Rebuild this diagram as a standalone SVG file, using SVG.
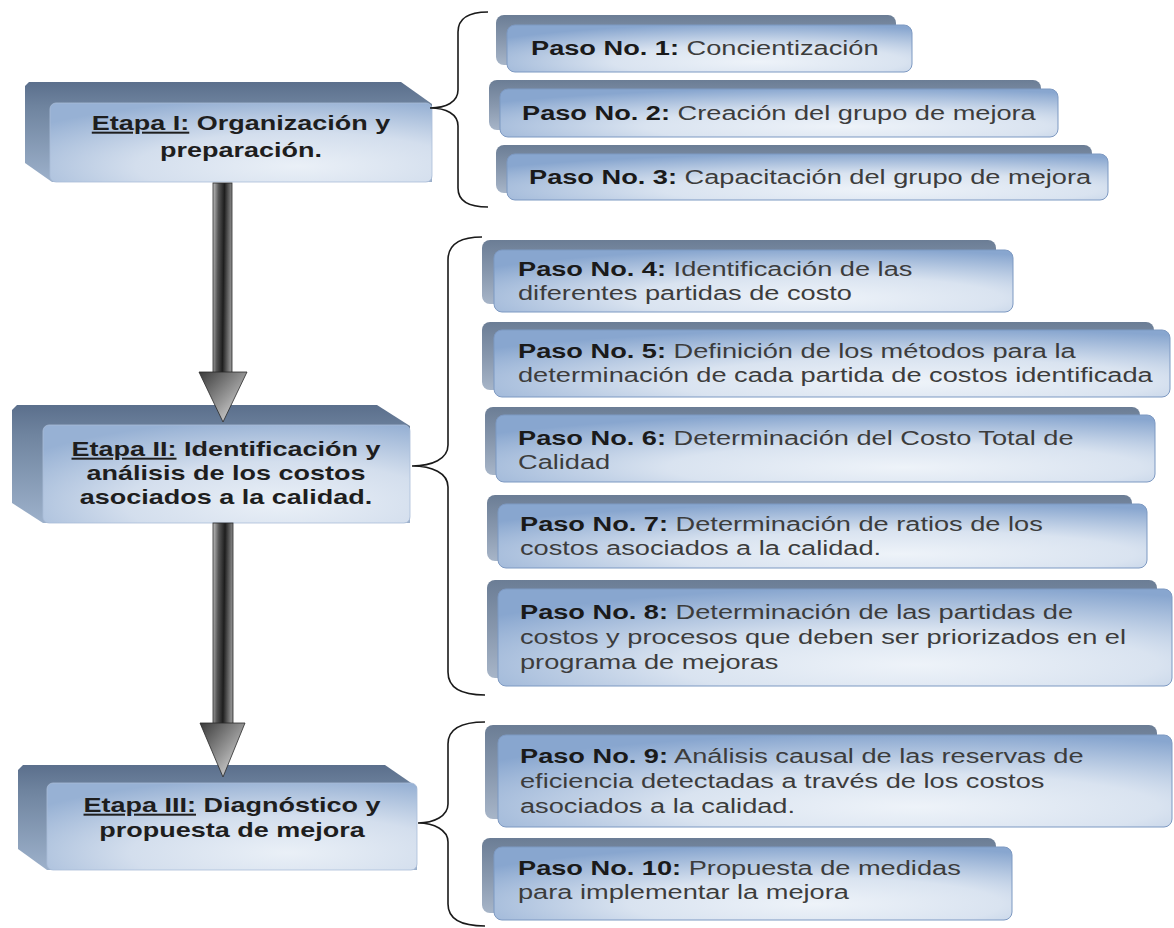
<svg xmlns="http://www.w3.org/2000/svg" width="1174" height="928" viewBox="0 0 1174 928">
<defs>
<radialGradient id="pf" cx="0.62" cy="0.78" r="0.8">
<stop offset="0" stop-color="#eef3f9"/>
<stop offset="0.45" stop-color="#d9e3f0"/>
<stop offset="1" stop-color="#88a6cf"/>
</radialGradient>
<linearGradient id="pb" x1="0" y1="0" x2="0" y2="1">
<stop offset="0" stop-color="#6b7d95"/>
<stop offset="0.5" stop-color="#8797ad"/>
<stop offset="1" stop-color="#a7b5c8"/>
</linearGradient>
<radialGradient id="ef" cx="0.65" cy="0.8" r="0.85">
<stop offset="0" stop-color="#eaf0f7"/>
<stop offset="0.5" stop-color="#d3deed"/>
<stop offset="1" stop-color="#97b1d4"/>
</radialGradient>
<linearGradient id="es" x1="0" y1="0" x2="0" y2="1">
<stop offset="0" stop-color="#5b6f8c"/>
<stop offset="0.25" stop-color="#6f849f"/>
<stop offset="1" stop-color="#9db1cb"/>
</linearGradient>
<linearGradient id="sh" x1="0" y1="0" x2="1" y2="0.12">
<stop offset="0" stop-color="#c0c0c0"/>
<stop offset="0.3" stop-color="#555555"/>
<stop offset="0.6" stop-color="#1e1e1e"/>
<stop offset="1" stop-color="#8c8c8c"/>
</linearGradient>
<linearGradient id="hd" x1="0" y1="0" x2="1" y2="1">
<stop offset="0" stop-color="#3a3a3a"/>
<stop offset="0.55" stop-color="#9a9a9a"/>
<stop offset="1" stop-color="#f0f0f0"/>
</linearGradient>
</defs>
<style>
.pb{fill:url(#pb)}
.pf{fill:url(#pf);stroke:#7d99c2;stroke-width:1}
.es{fill:url(#es)}
.ef{fill:url(#ef);stroke:#a9bdd8;stroke-width:0.8}
.t{font-family:"Liberation Sans",Arial,sans-serif;font-size:20px;fill:#3c3c3c}
.b{font-weight:bold;fill:#1a1a1a}
.e{font-family:"Liberation Sans",Arial,sans-serif;font-size:20px;font-weight:bold;fill:#1e1e1e}
.u{text-decoration:underline}
.br{fill:none;stroke:#1a1a1a;stroke-width:1.6}
.sh{fill:url(#sh);stroke:#2a2a2a;stroke-width:0.8}
.hd{fill:url(#hd);stroke:#2a2a2a;stroke-width:0.8}
</style>
<rect width="1174" height="928" fill="#ffffff"/>

<g id="etapa1">
<polygon class="es" points="25,86 29,82 401,82 432,104 432,182 52,182 25,163"/>
<rect class="ef" x="50" y="103" width="382" height="79" rx="6"/>
<g transform="translate(241,130) scale(1.35,1)"><text class="e" text-anchor="middle"><tspan x="0" y="0"><tspan class="u">Etapa I:</tspan> Organización y</tspan><tspan x="0" y="27">preparación.</tspan></text></g>
</g>

<g id="etapa2">
<polygon class="es" points="12,410 17,405 377,405 410,426 410,523 43,523 12,503"/>
<rect class="ef" x="43" y="425" width="367" height="98" rx="6"/>
<g transform="translate(226,456) scale(1.35,1)"><text class="e" text-anchor="middle"><tspan x="0" y="0"><tspan class="u">Etapa II:</tspan> Identificación y</tspan><tspan x="0" y="24">análisis de los costos</tspan><tspan x="0" y="48">asociados a la calidad.</tspan></text></g>
</g>

<g id="etapa3">
<polygon class="es" points="18,770 23,765 385,765 417,787 417,870 47,870 18,849"/>
<rect class="ef" x="47" y="783" width="370" height="87" rx="6"/>
<g transform="translate(232,812) scale(1.35,1)"><text class="e" text-anchor="middle"><tspan x="0" y="0"><tspan class="u">Etapa III:</tspan> Diagnóstico y</tspan><tspan x="0" y="25">propuesta de mejora</tspan></text></g>
</g>

<g id="paso1">
<rect class="pb" x="496" y="15" width="400" height="50" rx="8"/>
<rect class="pf" x="507" y="25" width="405" height="47" rx="8"/>
<g transform="translate(531,55) scale(1.36,1)"><text class="t"><tspan class="b">Paso No. 1:</tspan> Concientización</text></g>
</g>

<g id="paso2">
<rect class="pb" x="489" y="80" width="552" height="50" rx="8"/>
<rect class="pf" x="500" y="89" width="558" height="48" rx="8"/>
<g transform="translate(522,120) scale(1.36,1)"><text class="t"><tspan class="b">Paso No. 2:</tspan> Creación del grupo de mejora</text></g>
</g>

<g id="paso3">
<rect class="pb" x="496" y="145" width="596" height="48" rx="8"/>
<rect class="pf" x="507" y="154" width="601" height="46" rx="8"/>
<g transform="translate(529,184) scale(1.36,1)"><text class="t"><tspan class="b">Paso No. 3:</tspan> Capacitación del grupo de mejora</text></g>
</g>

<g id="paso4">
<rect class="pb" x="482" y="240" width="514" height="64" rx="8"/>
<rect class="pf" x="494" y="250" width="519" height="62" rx="8"/>
<g transform="translate(518,276) scale(1.36,1)"><text class="t"><tspan x="0" y="0"><tspan class="b">Paso No. 4:</tspan> Identificación de las</tspan><tspan x="0" y="24">diferentes partidas de costo</tspan></text></g>
</g>

<g id="paso5">
<rect class="pb" x="482" y="322" width="672" height="68" rx="8"/>
<rect class="pf" x="494" y="330" width="676" height="67" rx="8"/>
<g transform="translate(518,358) scale(1.36,1)"><text class="t"><tspan x="0" y="0"><tspan class="b">Paso No. 5:</tspan> Definición de los métodos para la</tspan><tspan x="0" y="24">determinación de cada partida de costos identificada</tspan></text></g>
</g>

<g id="paso6">
<rect class="pb" x="485" y="407" width="655" height="68" rx="8"/>
<rect class="pf" x="496" y="415" width="659" height="67" rx="8"/>
<g transform="translate(518,445) scale(1.36,1)"><text class="t"><tspan x="0" y="0"><tspan class="b">Paso No. 6:</tspan> Determinación del Costo Total de</tspan><tspan x="0" y="24">Calidad</tspan></text></g>
</g>

<g id="paso7">
<rect class="pb" x="487" y="495" width="645" height="66" rx="8"/>
<rect class="pf" x="498" y="504" width="649" height="64" rx="8"/>
<g transform="translate(520,531) scale(1.36,1)"><text class="t"><tspan x="0" y="0"><tspan class="b">Paso No. 7:</tspan> Determinación de ratios de los</tspan><tspan x="0" y="24">costos asociados a la calidad.</tspan></text></g>
</g>

<g id="paso8">
<rect class="pb" x="487" y="580" width="670" height="98" rx="8"/>
<rect class="pf" x="498" y="589" width="674" height="97" rx="8"/>
<g transform="translate(520,619) scale(1.36,1)"><text class="t"><tspan x="0" y="0"><tspan class="b">Paso No. 8:</tspan> Determinación de las partidas de</tspan><tspan x="0" y="25">costos y procesos que deben ser priorizados en el</tspan><tspan x="0" y="50">programa de mejoras</tspan></text></g>
</g>

<g id="paso9">
<rect class="pb" x="485" y="725" width="672" height="94" rx="8"/>
<rect class="pf" x="498" y="735" width="674" height="92" rx="8"/>
<g transform="translate(520,763) scale(1.36,1)"><text class="t"><tspan x="0" y="0"><tspan class="b">Paso No. 9:</tspan> Análisis causal de las reservas de</tspan><tspan x="0" y="25">eficiencia detectadas a través de los costos</tspan><tspan x="0" y="50">asociados a la calidad.</tspan></text></g>
</g>

<g id="paso10">
<rect class="pb" x="482" y="838" width="514" height="75" rx="8"/>
<rect class="pf" x="494" y="847" width="518" height="73" rx="8"/>
<g transform="translate(518,875) scale(1.36,1)"><text class="t"><tspan x="0" y="0"><tspan class="b">Paso No. 10:</tspan> Propuesta de medidas</tspan><tspan x="0" y="24">para implementar la mejora</tspan></text></g>
</g>

<g id="connectors">
<rect class="sh" x="213" y="183" width="19" height="190"/>
<polygon class="hd" points="199,372 247,372 223,422"/>
<rect class="sh" x="213" y="523" width="20" height="201"/>
<polygon class="hd" points="200,723 245,723 223,777"/>
<path class="br" d="M488,12 C470,12 458,17 458,32 L458,90 C458,102 446,108 430,108 C446,108 458,114 458,126 L458,188 C458,202 470,207 488,207"/>
<path class="br" d="M482,237 C462,237 448,243 448,260 L448,445 C448,459 432,466 412,466 C432,466 448,473 448,487 L448,672 C448,689 462,695 485,695"/>
<path class="br" d="M485,722 C462,722 448,728 448,744 L448,804 C448,816 434,823 418,823 C434,823 448,830 448,842 L448,904 C448,920 462,926 485,926"/>
</g>
</svg>
